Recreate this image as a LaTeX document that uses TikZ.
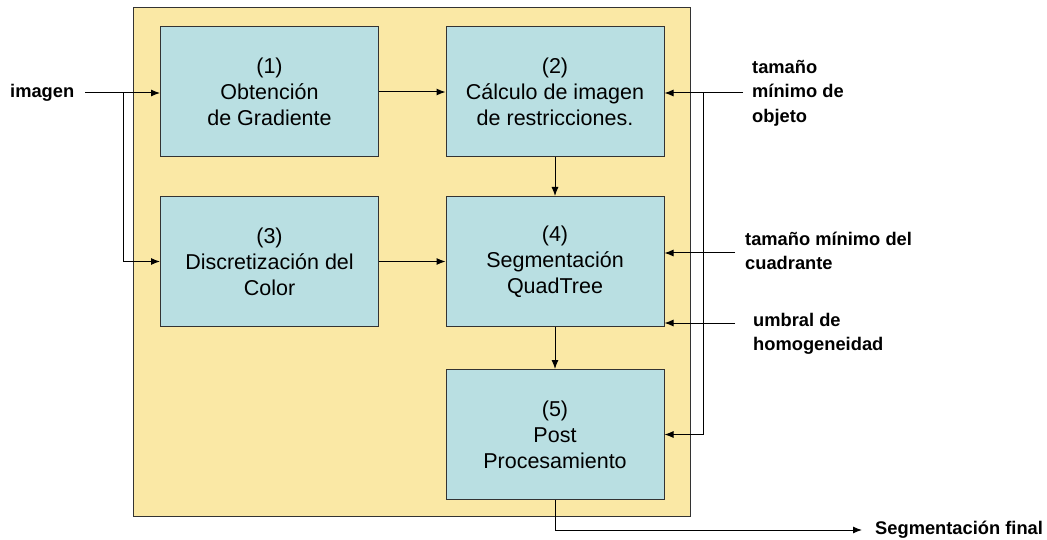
\documentclass[tikz,border=0pt]{standalone}
\usepackage{fontspec}
\setmainfont{Liberation Sans}
\usetikzlibrary{arrows.meta}
\definecolor{marco}{HTML}{FAE8A5}
\definecolor{caja}{HTML}{B9DFE2}
\tikzset{
  bloque/.style={draw=black!80, fill=caja, line width=1pt,
    minimum width=218pt, minimum height=130pt, align=center,
    font=\fontsize{21.5}{26}\selectfont},
  entrada/.style={inner sep=0pt, align=left,
    font=\fontsize{18.3}{24.5}\selectfont\bfseries},
}
\begin{document}
\begin{tikzpicture}[x=1pt,y=-1pt]
  \useasboundingbox (0,0) rectangle (1047,540);
  \draw[fill=marco, draw=black!80, line width=1pt] (133,8) rectangle (690,516);
  \path
    (269.5,92) node[bloque] (1){(1)\\Obtención\\de Gradiente}
    (555,92) node[bloque] (2){(2)\\Cálculo de imagen\\de restricciones.}
    (269.5,261.5) node[bloque] (3){(3)\\Discretización del\\Color}
    (555,261.5) node[bloque] (4){(4)\\Segmentación\\QuadTree}
    (555,434.5) node[bloque] (5){(5)\\Post\\Procesamiento};
  \path
    (10,93) node[entrada,anchor=west] (img){imagen}
    (752,93) node[entrada,anchor=west] (obj){tamaño\\mínimo de\\objeto}
    (745,251) node[entrada,anchor=west] (cuad){tamaño mínimo del\\cuadrante}
    (753,334) node[entrada,anchor=west] (umb){umbral de\\homogeneidad}
    (875,530) node[entrada,anchor=west] (fin){Segmentación final};
  \coordinate (a) at (85,93);
  \coordinate (b) at (123,93);
  \coordinate (c) at (743,93);
  \coordinate (d) at (703,93);
  \coordinate (e) at (735,253);
  \coordinate (f) at (735,323);
  \coordinate (g) at (862,530);
  \begin{scope}[-{Latex[length=9pt,width=7pt]}, line width=1pt]
    \draw (a) -- (a -| 1.west);
    \draw (b) |- (3.west);
    \draw (1) -- (2);
    \draw (3) -- (4);
    \draw (2) -- (4);
    \draw (4) -- (5);
    \draw (c) -- (c -| 2.east);
    \draw (d) |- (5.east);
    \draw (e) -- (e -| 4.east);
    \draw (f) -- (f -| 4.east);
    \draw (5) |- (g);
  \end{scope}
\end{tikzpicture}
\end{document}
